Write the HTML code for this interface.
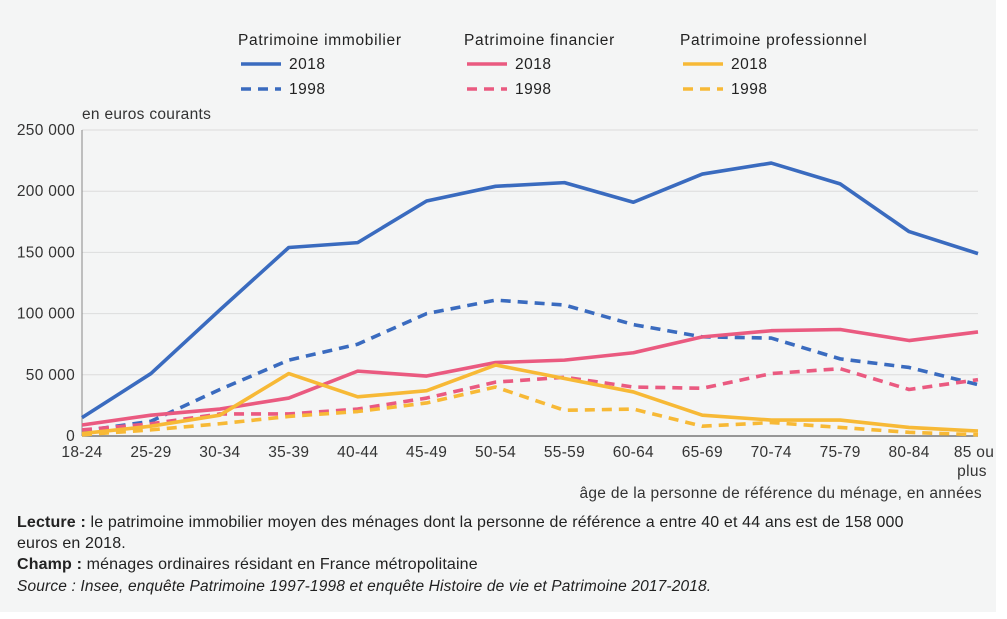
<!DOCTYPE html>
<html><head><meta charset="utf-8"><style>
body{margin:0;background:#fff;font-family:"Liberation Sans",sans-serif;}
#wrap{position:relative;width:1007px;height:619px;}
#panel{position:absolute;left:0;top:0;width:996px;height:612px;background:#f4f5f5;}
svg{position:absolute;left:0;top:0;}
.note{position:absolute;left:17px;font-size:16px;letter-spacing:0.15px;color:#222;line-height:21px;}
</style></head><body>
<div id="wrap">
<div id="panel"></div>
<svg id="chart" width="1007" height="619"></svg>
<div class="note" style="top:512px;width:915px"><b>Lecture :</b> le patrimoine immobilier moyen des ménages dont la personne de référence a entre 40 et 44 ans est de 158 000 euros en 2018.</div>
<div class="note" style="top:554px"><b>Champ :</b> ménages ordinaires résidant en France métropolitaine</div>
<div class="note" style="top:576px;font-style:italic;font-size:15.5px">Source : Insee, enquête Patrimoine 1997-1998 et enquête Histoire de vie et Patrimoine 2017-2018.</div>
</div>
<script>
const categories=["18-24","25-29","30-34","35-39","40-44","45-49","50-54","55-59","60-64","65-69","70-74","75-79","80-84","85 ou plus"];
const immo2018=[15000,51000,103000,154000,158000,192000,204000,207000,191000,214000,223000,206000,167000,149000];
const immo1998=[4000,12000,38000,62000,75000,100000,111000,107000,91000,81000,80000,63000,56000,42000];
const fin2018=[9000,17000,22000,31000,53000,49000,60000,62000,68000,81000,86000,87000,78000,85000];
const fin1998=[5000,10000,18000,18000,22000,31000,44000,48000,40000,39000,51000,55000,38000,46000];
const pro2018=[2000,8000,17000,51000,32000,37000,58000,47000,36000,17000,13000,13000,7000,4000];
const pro1998=[1000,5000,10000,16000,20000,27000,40000,21000,22000,8000,11000,7000,3000,1000];
const yTicks=[0,50000,100000,150000,200000,250000];
const yTickLabels=["0","50 000","100 000","150 000","200 000","250 000"];
const series=[
 {name:"immobilier-2018",data:immo2018,color:"#3a6bbf",dash:""},
 {name:"immobilier-1998",data:immo1998,color:"#3a6bbf",dash:"10 7"},
 {name:"financier-2018",data:fin2018,color:"#ea5a80",dash:""},
 {name:"financier-1998",data:fin1998,color:"#ea5a80",dash:"10 7"},
 {name:"professionnel-2018",data:pro2018,color:"#f7b936",dash:""},
 {name:"professionnel-1998",data:pro1998,color:"#f7b936",dash:"10 7"}];
const svg=document.getElementById('chart');const NS="http://www.w3.org/2000/svg";
const x0=82,x1=978,yb=436,yt=130,ymax=250000;
const FS={'font-size':15.5,'letter-spacing':0.3,fill:'#333'};
const xs=i=>x0+(x1-x0)*i/(categories.length-1);
const ys=v=>yb-(yb-yt)*v/ymax;
function mk(t,a,txt){const e=document.createElementNS(NS,t);for(const k in a)e.setAttribute(k,a[k]);if(txt!==undefined)e.textContent=txt;svg.appendChild(e);return e;}
yTicks.forEach((v,i)=>{
 if(v>0){const g=mk('line',{x1:x0,x2:x1,y1:ys(v),y2:ys(v),stroke:'#dcdcdc','stroke-width':1});
 
 }
 const t=mk('text',Object.assign({x:x0-7,y:ys(v)+5,'text-anchor':'end'},FS),yTickLabels[i]);
 
 
});
const ax=mk('line',{x1:x0,x2:x0,y1:yt,y2:yb,stroke:'#888','stroke-width':1});


const bx=mk('line',{x1:x0,x2:x1,y1:yb,y2:yb,stroke:'#777','stroke-width':1.5});


categories.forEach((c,i)=>{
 if(c==="85 ou plus"){
  const t=mk('text',Object.assign({x:xs(i)-4,y:457,'text-anchor':'middle'},FS),"85 ou");
  
  
  const t2=mk('text',Object.assign({x:xs(i)-6,y:476,'text-anchor':'middle'},FS),"plus");
  
  
 }else{
  const t=mk('text',Object.assign({x:xs(i),y:457,'text-anchor':'middle'},FS),c);
  
  
 }
});
series.forEach(s=>{
 const p=mk('polyline',{points:s.data.map((v,i)=>xs(i)+','+ys(v)).join(' '),fill:'none',stroke:s.color,'stroke-width':3.6,'stroke-dasharray':s.dash,'stroke-linejoin':'round'});
 
 
});
const yl=mk('text',Object.assign({x:82,y:119},FS),"en euros courants");


const xl=mk('text',Object.assign({x:982,y:498,'text-anchor':'end'},FS),"âge de la personne de référence du ménage, en années");


const legend=[["Patrimoine immobilier",238,"#3a6bbf"],["Patrimoine financier",464,"#ea5a80"],["Patrimoine professionnel",680,"#f7b936"]];
legend.forEach(l=>{
 const h=mk('text',{x:l[1],y:45,'font-size':15.5,'letter-spacing':0.7,fill:'#222'},l[0]);
 
 
 [["2018","",64],["1998","10 7",89]].forEach(r=>{
  const ln=mk('line',{x1:l[1]+3,x2:l[1]+43,y1:r[2],y2:r[2],stroke:l[2],'stroke-width':3.6,'stroke-dasharray':r[1]});
  
  
  const tt=mk('text',{x:l[1]+51,y:r[2]+5,'font-size':15.5,'letter-spacing':0.5,fill:'#222'},r[0]);
  
  
 });
});
</script>
</body></html>
